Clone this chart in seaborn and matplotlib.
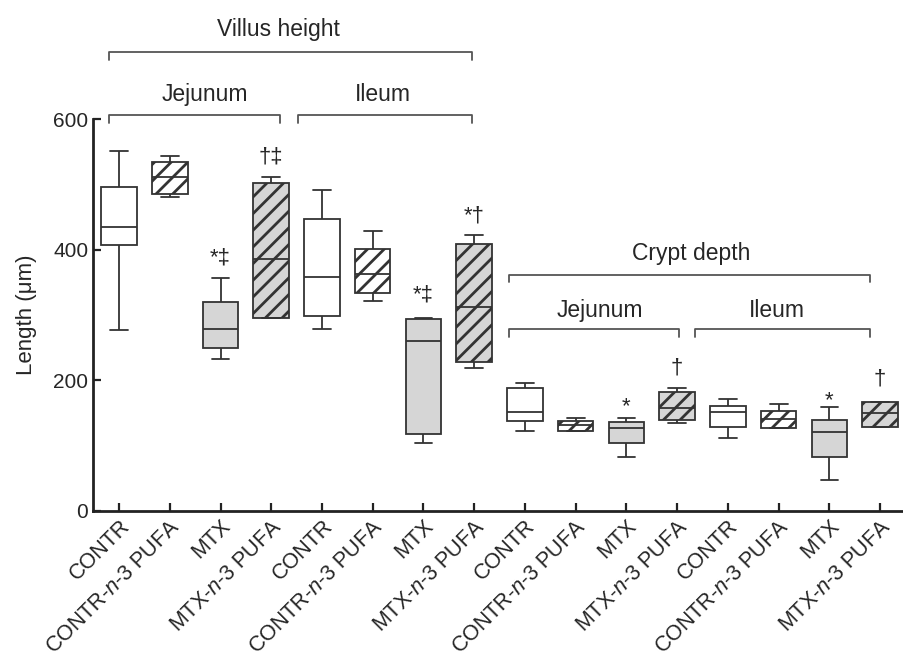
import matplotlib
matplotlib.use("Agg")
import matplotlib.pyplot as plt
import pandas as pd
import seaborn as sns

# one entry per box, left to right
treatments = ["CONTR", "CONTR-n-3 PUFA", "MTX", "MTX-n-3 PUFA"] * 4
tick_labels = ["CONTR", r"CONTR-$\mathit{n}$-3 PUFA", "MTX", r"MTX-$\mathit{n}$-3 PUFA"] * 4

whisker_low = [277, 481, 232, 296, 279, 322, 104, 219, 122, 122, 82, 134, 112, 127, 47, 128]
q1 = [407, 486, 250, 296, 298, 334, 118, 228, 138, 123, 104, 140, 129, 127, 82, 128]
median = [435, 511, 279, 386, 359, 363, 261, 313, 151, 131, 127, 157, 152, 141, 121, 150]
q3 = [496, 534, 320, 502, 447, 401, 294, 409, 188, 138, 137, 182, 161, 153, 139, 167]
whisker_high = [551, 544, 357, 511, 492, 429, 295, 422, 196, 143, 143, 188, 171, 164, 159, 167]

# significance marks and the height of their baseline
marks = ["", "", "*‡", "†‡", "", "", "*‡", "*†", "", "", "*", "†", "", "", "*", "†"]
marks_y = [0, 0, 379, 533, 0, 0, 322, 444, 0, 0, 152, 211, 0, 0, 160, 194]

palette = {
    'CONTR': ('white', ''),
    'CONTR-n-3 PUFA': ('white', '//'),
    'MTX': ('#d6d6d6', ''),
    'MTX-n-3 PUFA': ('#d6d6d6', '//'),
}
edge = '#333333'

# brackets: (x0, x1, y, label, label_x, label_baseline)
brackets = [
    (-0.2, 6.96, 703, "Villus height", 3.15, 727),
    (-0.2, 3.18, 606, "Jejunum", 1.7, 628),
    (3.52, 6.96, 606, "Ileum", 5.2, 628),
    (7.69, 14.8, 362, "Crypt depth", 11.28, 384),
    (7.69, 11.03, 279, "Jejunum", 9.48, 297),
    (11.36, 14.8, 279, "Ileum", 12.97, 297),
]

rows = []
for i in range(len(treatments)):
    for v in (whisker_low[i], q1[i], median[i], q3[i], whisker_high[i]):
        rows.append({"slot": i, "length": v})
df = pd.DataFrame(rows)

sns.set_style("ticks")
plt.rcParams['font.family'] = ['Liberation Sans', 'DejaVu Sans']
plt.rcParams['mathtext.fontset'] = 'custom'
plt.rcParams['mathtext.rm'] = 'Liberation Sans'
plt.rcParams['mathtext.it'] = 'Liberation Sans:italic'
plt.rcParams['hatch.linewidth'] = 2.0

fig = plt.figure(figsize=(9.04, 6.68), dpi=100)
ax = fig.add_axes([93 / 904, 157 / 668, 811 / 904, 511 / 668])

sns.boxplot(data=df, x="slot", y="length", whis=(0, 100), width=0.7,
            color="white", saturation=1, linecolor=edge, linewidth=1.3,
            fliersize=0, ax=ax)

for i, patch in enumerate(ax.patches):
    face, hatch = palette[treatments[i]]
    patch.set_facecolor(face)
    patch.set_hatch(hatch)

for i, m in enumerate(marks):
    if m:
        ax.text(i, marks_y[i], m, ha="center", va="baseline", fontsize=16)

for x0, x1, y, label, lx, ly in brackets:
    ax.plot([x0, x0, x1, x1], [y - 12, y, y, y - 12], color="#555555", lw=1.3, clip_on=False)
    ax.text(lx, ly, label, ha="center", va="baseline", fontsize=16.5)

ax.set_xlim(-0.513, 15.47)
ax.set_ylim(0, 782.5)
ax.set_yticks([0, 200, 400, 600])
ax.set_xticks(range(len(tick_labels)))
ax.set_xticklabels(tick_labels, rotation=45, ha="right", rotation_mode="anchor", fontsize=15.5)
ax.tick_params(axis="y", labelsize=15)
ax.tick_params(direction="in", length=6, width=1.6, color="#222222")
ax.set_xlabel("")
ax.set_ylabel("Length (μm)", fontsize=16)
ax.yaxis.set_label_coords(-0.069, 300 / 782.5)

sns.despine(ax=ax)
ax.spines['left'].set_bounds(0, 600)
for s in ('left', 'bottom'):
    ax.spines[s].set_linewidth(2)
    ax.spines[s].set_color('#222222')

fig.savefig("out.png", dpi=100)
